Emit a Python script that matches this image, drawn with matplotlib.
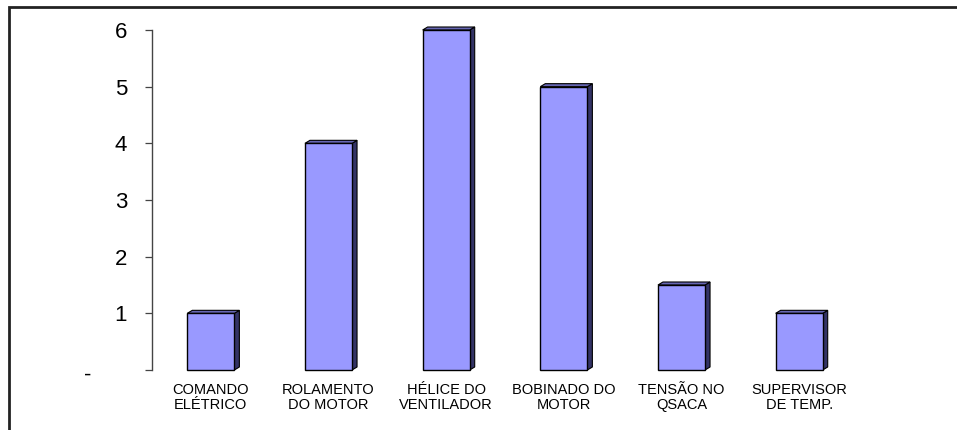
import matplotlib.pyplot as plt
from matplotlib.patches import Polygon, Rectangle
from matplotlib.transforms import ScaledTranslation

plt.rcParams['font.family'] = ['Liberation Sans', 'DejaVu Sans']

# falhas por componente
categorias = ["COMANDO\nELÉTRICO", "ROLAMENTO\nDO MOTOR", "HÉLICE DO\nVENTILADOR",
              "BOBINADO DO\nMOTOR", "TENSÃO NO\nQSACA", "SUPERVISOR\nDE TEMP."]
valores = [1, 4, 6, 5, 1.5, 1]
y_ticks = [0, 1, 2, 3, 4, 5, 6]
y_labels = ["-", "1", "2", "3", "4", "5", "6"]

W, H = 957, 430
fig = plt.figure(figsize=(W / 100, H / 100), dpi=100)
ax = fig.add_axes([152 / W, 1 - 370 / H, (858 - 152) / W, (370 - 30) / H])

cor_frente = "#9999ff"
cor_lado = "#333366"
cor_topo = "#6666b3"
largura = 0.4

ax.set_xlim(-0.5, len(valores) - 0.5)
ax.set_ylim(0, 6)

# profundidade do efeito 3D em unidades de dados (≈5 px para a direita, 3 px para cima)
px_x = (len(valores)) / (858 - 152)
px_y = 6 / (370 - 30)
dx, dy = 5 * px_x, 3 * px_y

x = list(range(len(valores)))
for xi, v in zip(x, valores):
    x0, x1 = xi - largura / 2, xi + largura / 2
    lado = Polygon([(x1, 0), (x1 + dx, dy), (x1 + dx, v + dy), (x1, v)],
                   closed=True, facecolor=cor_lado, edgecolor="black", lw=0.8,
                   clip_on=False, zorder=2)
    topo = Polygon([(x0, v), (x0 + dx, v + dy), (x1 + dx, v + dy), (x1, v)],
                   closed=True, facecolor=cor_topo, edgecolor="black", lw=0.8,
                   clip_on=False, zorder=2)
    ax.add_patch(lado)
    ax.add_patch(topo)

ax.bar(x, valores, width=largura, color=cor_frente, edgecolor="black",
       linewidth=1.0, zorder=3, clip_on=False)

for s in ["top", "right", "bottom"]:
    ax.spines[s].set_visible(False)
ax.spines["left"].set_color("#444444")
ax.spines["left"].set_linewidth(1.0)

ax.set_yticks(y_ticks)
ax.set_yticklabels(y_labels, fontsize=16)
ax.tick_params(axis="y", length=5, width=0.9, color="#444444", pad=13)
# o zero aparece como "-" mais à esquerda
zero = ax.get_yticklabels()[0]
zero.set_transform(zero.get_transform() + ScaledTranslation(-0.36, -0.03, fig.dpi_scale_trans))

ax.set_xticks(x)
ax.set_xticklabels(categorias, fontsize=10.5, linespacing=1.15)
ax.tick_params(axis="x", length=0, pad=9)

# moldura da área do gráfico
fig.patches.append(Rectangle((8.5 / W, -0.2), 1.2, 1 - 6.5 / H + 0.2,
                             transform=fig.transFigure, fill=False,
                             edgecolor="#222222", linewidth=2))

fig.savefig("out.png", dpi=100)
